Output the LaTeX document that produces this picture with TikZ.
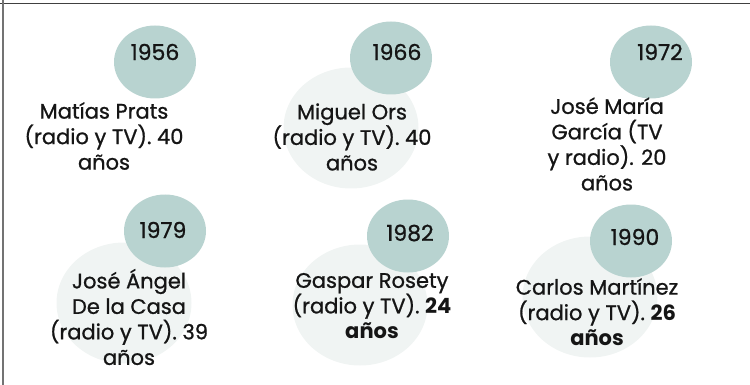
\documentclass[tikz,border=0pt]{standalone}
\usepackage{fontspec}
\setmainfont{Poppins}[UprightFeatures={FakeBold=0.9}]
\usetikzlibrary{shapes.geometric}
\definecolor{sage}{HTML}{B8D3D0}
\definecolor{mist}{HTML}{F0F4F3}
\definecolor{ink}{HTML}{151515}
\begin{document}
\begin{tikzpicture}
        [x=1pt,y=-1pt,
         dark/.style={shape=ellipse,fill=sage,minimum width=82pt,minimum height=73pt,inner sep=0},
         pale/.style={shape=ellipse,fill=mist,minimum width=135pt,minimum height=121pt,inner sep=0},
         year/.style={font=\fontsize{22}{24}\selectfont,text=ink,inner sep=0},
         txt/.style={align=center,font=\fontsize{21}{25.5}\selectfont,text=ink,inner sep=0}]

        \useasboundingbox (0,0) rectangle (750,385);
        \draw[line width=1.6pt, black!75] (0,3.5) -- (750,3.5);
        \draw[line width=1.6pt, black!55] (3,0) -- (3,385);

        % pale halos
        \node[pale] (h2) at (351, 128) {};
        \node[pale] (h4) at (124, 303) {};
        \node[pale] (h5) at (360, 305) {};
        \node[pale] (h6) at (590, 297) {};

        % year discs
        \node[dark] (d1) at (155, 62) {};
        \node[dark] (d2) at (391, 58) {};
        \node[dark] (d3) at (651, 62) {};
        \node[dark] (d4) at (165, 231) {};
        \node[dark] (d5) at (408, 236) {};
        \node[dark] (d6) at (631, 241) {};

        \node[year] (y1) at (155, 52) {1956};
        \node[year] (y2) at (397, 52) {1966};
        \node[year] (y3) at (660, 52) {1972};
        \node[year] (y4) at (163, 230) {1979};
        \node[year] (y5) at (410, 233) {1982};
        \node[year] (y6) at (635, 237) {1990};

        \node[txt] (t1) at (104, 136) {Matías Prats\\(radio y TV). 40\\años};
        \node[txt] (t2) at (352, 137) {Miguel Ors\\(radio y TV). 40\\años};
        \node[txt] (t3) at (607, 144) {José María\\García (TV\\y radio). 20\\años};
        \node[txt] (t4) at (129, 317) {José Ángel\\De la Casa\\(radio y TV). 39\\años};
        \node[txt] (t5) at (372, 306) {Gaspar Rosety\\(radio y TV). \textbf{24}\\\textbf{años}};
        \node[txt] (t6) at (597, 312) {Carlos Martínez\\(radio y TV). \textbf{26}\\\textbf{años}};
      \end{tikzpicture}
\end{document}
